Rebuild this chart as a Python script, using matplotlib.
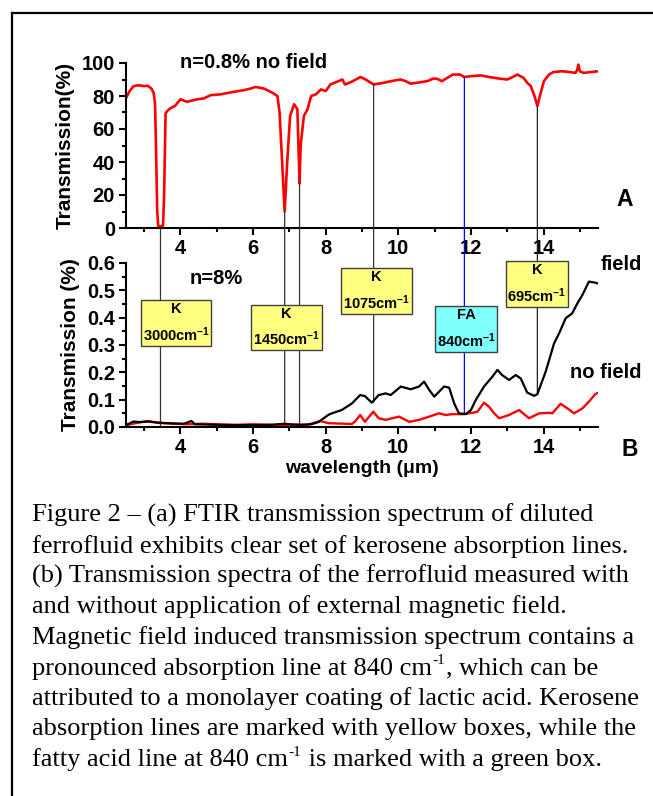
import matplotlib
matplotlib.use("Agg")
import matplotlib.pyplot as plt
from matplotlib.patches import ConnectionPatch
from matplotlib.lines import Line2D
from matplotlib.ticker import MultipleLocator

# ---------------- data ----------------
# Panel A: diluted ferrofluid (n=0.8%), no field
top_x = [2.52, 2.6, 2.71, 2.85, 3.0, 3.1, 3.2, 3.26, 3.3, 3.33, 3.36, 3.39, 3.45, 3.52, 3.55, 3.59,
         3.64, 3.72, 3.85, 4.0, 4.18, 4.46, 4.64, 4.83, 5.1, 5.46, 5.74, 5.93, 6.07, 6.3, 6.53,
         6.67, 6.73, 6.8, 6.87, 6.94, 7.02, 7.13, 7.22, 7.25, 7.28, 7.31, 7.4, 7.5, 7.6, 7.73,
         7.87, 8.0, 8.13, 8.3, 8.46, 8.53, 8.7, 8.96, 9.1, 9.32, 9.6, 9.8, 10.06, 10.2, 10.34,
         10.5, 10.8, 10.95, 11.06, 11.2, 11.35, 11.5, 11.7, 11.82, 12.0, 12.27, 12.5, 12.8, 13.0,
         13.15, 13.28, 13.45, 13.55, 13.65, 13.75, 13.83, 13.9, 14.01, 14.15, 14.27, 14.5, 14.73,
         14.88, 14.93, 14.96, 15.0, 15.1, 15.3, 15.5]
top_y = [79.6, 83, 86, 86.5, 86, 86.2, 84.5, 82, 75, 45, 10, 1, 1, 1.5, 20, 69.5,
         71, 72.5, 74, 78, 76.5, 78, 78.5, 80.5, 81, 82.5, 83.5, 84.5, 85.5, 84.5, 82,
         80, 70, 40, 10, 40, 68, 75, 72, 50, 27, 50, 68, 72, 80, 81,
         84, 83, 87, 88.5, 90, 87, 88.5, 91.5, 90, 87, 88, 89, 90, 89, 87.5,
         88, 89, 90.5, 90.5, 89, 91, 93, 93, 91.5, 92, 92.5, 91.5, 90.5, 90,
         91.5, 93, 91, 88, 86, 80, 74, 80, 89, 93, 94.5, 95, 94.5,
         94, 96, 99, 95, 94, 94.5, 95]

# Panel B: concentrated ferrofluid (n=8%), with and without field
field_x = [2.55, 2.7, 2.9, 3.1, 3.3, 3.5, 3.8, 4.1, 4.3, 4.4, 5.0, 5.5, 6.0, 6.5, 6.87, 7.0,
           7.3, 7.6, 7.8, 8.08, 8.17, 8.44, 8.72, 8.95, 9.08, 9.27, 9.46, 9.65, 9.79, 10.07,
           10.34, 10.57, 10.71, 10.85, 10.99, 11.26, 11.4, 11.54, 11.67, 11.86, 12.0, 12.13,
           12.36, 12.59, 12.73, 12.86, 13.05, 13.23, 13.37, 13.55, 13.74, 13.83, 14.06, 14.29,
           14.43, 14.61, 14.79, 14.93, 15.07, 15.25, 15.43, 15.5]
field_y = [0.01, 0.02, 0.018, 0.02, 0.017, 0.015, 0.013, 0.012, 0.022, 0.01, 0.008, 0.007,
           0.007, 0.008, 0.012, 0.01, 0.008, 0.01, 0.018, 0.045, 0.05, 0.062, 0.086, 0.117,
           0.113, 0.089, 0.117, 0.123, 0.117, 0.148, 0.138, 0.148, 0.166, 0.136, 0.111, 0.148,
           0.144, 0.086, 0.05, 0.047, 0.062, 0.098, 0.148, 0.184, 0.209, 0.19, 0.172, 0.19,
           0.178, 0.126, 0.114, 0.12, 0.203, 0.306, 0.343, 0.398, 0.416, 0.452, 0.483, 0.532,
           0.528, 0.525]
nofield_x = [2.55, 2.8, 3.1, 3.4, 3.8, 4.2, 4.6, 5.0, 5.5, 6.0, 6.5, 7.0, 7.5, 7.85, 8.08,
             8.72, 8.81, 8.95, 9.08, 9.31, 9.46, 9.65, 10.02, 10.3, 10.57, 10.85, 11.12, 11.3,
             11.49, 11.77, 12.05, 12.18, 12.36, 12.5, 12.64, 12.78, 13.05, 13.33, 13.6, 13.88,
             14.16, 14.24, 14.47, 14.66, 14.84, 15.07, 15.25, 15.43, 15.5]
nofield_y = [0.008, 0.015, 0.022, 0.015, 0.012, 0.01, 0.012, 0.01, 0.008, 0.01, 0.008, 0.008,
             0.008, 0.022, 0.014, 0.011, 0.02, 0.044, 0.019, 0.056, 0.032, 0.026, 0.038, 0.019,
             0.026, 0.038, 0.05, 0.044, 0.047, 0.047, 0.052, 0.056, 0.089, 0.074, 0.05, 0.032,
             0.044, 0.062, 0.032, 0.05, 0.052, 0.05, 0.085, 0.068, 0.05, 0.068, 0.093, 0.121, 0.125]

# Marker lines (wavelength, value reached in panel A, value reached in panel B)
mark_x = [3.45, 6.87, 7.28, 9.32, 11.82, 13.83]
mark_top = [0, 10, 27, 87, 91.5, 74]
mark_bot = [0, 0, 0, 0.09, 0.047, 0.12]
mark_col = ["#333333", "#333333", "#333333", "#333333", "#0000ff", "#222222"]

# Annotation boxes
box_x = [3.88, 6.92, 9.40, 11.87, 13.82]
box_y = [0.38, 0.364, 0.497, 0.358, 0.523]
box_top = ["K", "K", "K", "FA", "K"]
box_wn = ["3000", "1450", "1075", "840", "695"]
box_col = ["#ffff80", "#ffff80", "#ffff80", "#80ffff", "#ffff80"]

# Caption lines; "^" marks a superscript "-1"
caption_lines = [
    "Figure 2 \u2013 (a) FTIR transmission spectrum of diluted",
    "ferrofluid exhibits clear set of kerosene absorption lines.",
    "(b) Transmission spectra of the ferrofluid measured with",
    "and without application of external magnetic field.",
    "Magnetic field induced transmission spectrum contains a",
    "pronounced absorption line at 840 cm^, which can be",
    "attributed to a monolayer coating of lactic acid. Kerosene",
    "absorption lines are marked with yellow boxes, while the",
    "fatty acid line at 840 cm^ is marked with a green box.",
]

# ---------------- style ----------------
plt.rcParams["font.family"] = ["Liberation Sans", "DejaVu Sans"]
plt.rcParams["font.weight"] = "bold"
plt.rcParams["mathtext.default"] = "regular"

W, H = 653, 796
fig = plt.figure(figsize=(W / 100, H / 100), dpi=100)

def fx(px):
    return px / W

def fy(py):
    return 1 - py / H

ax1 = fig.add_axes([fx(126), fy(228), fx(598) - fx(126), fy(63) - fy(228)])
ax2 = fig.add_axes([fx(126), fy(427), fx(598) - fx(126), fy(263) - fy(427)])
ax2.set_zorder(3)
ax2.patch.set_alpha(0)

for ax in (ax1, ax2):
    for s in ("top", "right"):
        ax.spines[s].set_visible(False)
    for s in ("left", "bottom"):
        ax.spines[s].set_linewidth(1.5)
    ax.set_xlim(2.5, 15.5)
    ax.xaxis.set_major_locator(MultipleLocator(2))
    ax.xaxis.set_minor_locator(MultipleLocator(1))
    ax.tick_params(which="major", direction="out", length=5, width=1.5, labelsize=14.5, pad=3)
    ax.tick_params(which="minor", direction="out", length=3, width=1.5)
    for lab in ax.get_xticklabels() + ax.get_yticklabels():
        lab.set_fontweight("bold")

ax1.set_ylim(0, 100)
ax1.yaxis.set_major_locator(MultipleLocator(20))
ax1.yaxis.set_minor_locator(MultipleLocator(10))
ax2.set_ylim(0, 0.6)
ax2.yaxis.set_major_locator(MultipleLocator(0.1))
ax2.yaxis.set_minor_locator(MultipleLocator(0.05))
ax2.yaxis.set_major_formatter(matplotlib.ticker.FormatStrFormatter("%.1f"))

ax1.plot(top_x, top_y, color="#ff0000", lw=1.9, solid_joinstyle="round")
ax2.plot(nofield_x, nofield_y, color="#ff0000", lw=1.7, solid_joinstyle="round", zorder=2)
ax2.plot(field_x, field_y, color="black", lw=1.6, solid_joinstyle="round", zorder=3)

ax1.set_ylabel("Transmission(%)", fontsize=15, fontweight="bold", labelpad=5)
ax2.set_ylabel("Transmission (%)", fontsize=15, fontweight="bold", labelpad=5)
ax2.set_xlabel("wavelength (\u03bcm)", fontsize=14, fontweight="bold", labelpad=2)

# marker lines spanning both panels
for x, t, b, c in zip(mark_x, mark_top, mark_bot, mark_col):
    con = ConnectionPatch(xyA=(x, t), coordsA=ax1.transData, xyB=(x, b), coordsB=ax2.transData,
                          color=c, lw=0.9, zorder=1)
    fig.add_artist(con)

for x, y, t, w, c in zip(box_x, box_y, box_top, box_wn, box_col):
    ax2.text(x, y, t + "\n" + w + "cm$^{-1}$", ha="center", va="center", fontsize=10.5,
             fontweight="bold", linespacing=1.6, multialignment="center", zorder=5,
             bbox=dict(boxstyle="square,pad=0.12", facecolor=c, edgecolor="#404040", lw=1))

fig.text(fx(254), fy(62), "n=0.8% no field", ha="center", va="center", fontsize=14.5, fontweight="bold")
fig.text(fx(216), fy(278), "n=8%", ha="center", va="center", fontsize=14.5, fontweight="bold")
fig.text(fx(642), fy(264), "field", ha="right", va="center", fontsize=14.5, fontweight="bold")
fig.text(fx(642), fy(373), "no field", ha="right", va="center", fontsize=14.5, fontweight="bold")
fig.text(fx(625), fy(200), "A", ha="center", va="center", fontsize=16.5, fontweight="bold")
fig.text(fx(630), fy(450), "B", ha="center", va="center", fontsize=16.5, fontweight="bold")

# caption, line by line, with superscripts placed by measuring text widths
serif = ["Liberation Serif", "DejaVu Serif"]
renderer = fig.canvas.get_renderer()
cap_size = 19
for i, line in enumerate(caption_lines):
    base = 522 + i * 30.5
    x = 32.0
    pieces = line.split("^")
    for j, piece in enumerate(pieces):
        t = fig.text(fx(x), fy(base), piece, ha="left", va="baseline", fontsize=cap_size,
                     fontweight="normal", family=serif)
        x += t.get_window_extent(renderer).width
        if j < len(pieces) - 1:
            s = fig.text(fx(x + 0.5), fy(base - 10), "-1", ha="left", va="baseline", fontsize=11,
                         fontweight="normal", family=serif)
            x += s.get_window_extent(renderer).width + 1

# frame
fig.add_artist(Line2D([fx(12), 1.0], [fy(13), fy(13)], color="black", lw=1.6))
fig.add_artist(Line2D([fx(12), fx(12)], [fy(13), 0.0], color="black", lw=1.6))

fig.savefig("out.png", dpi=100)
